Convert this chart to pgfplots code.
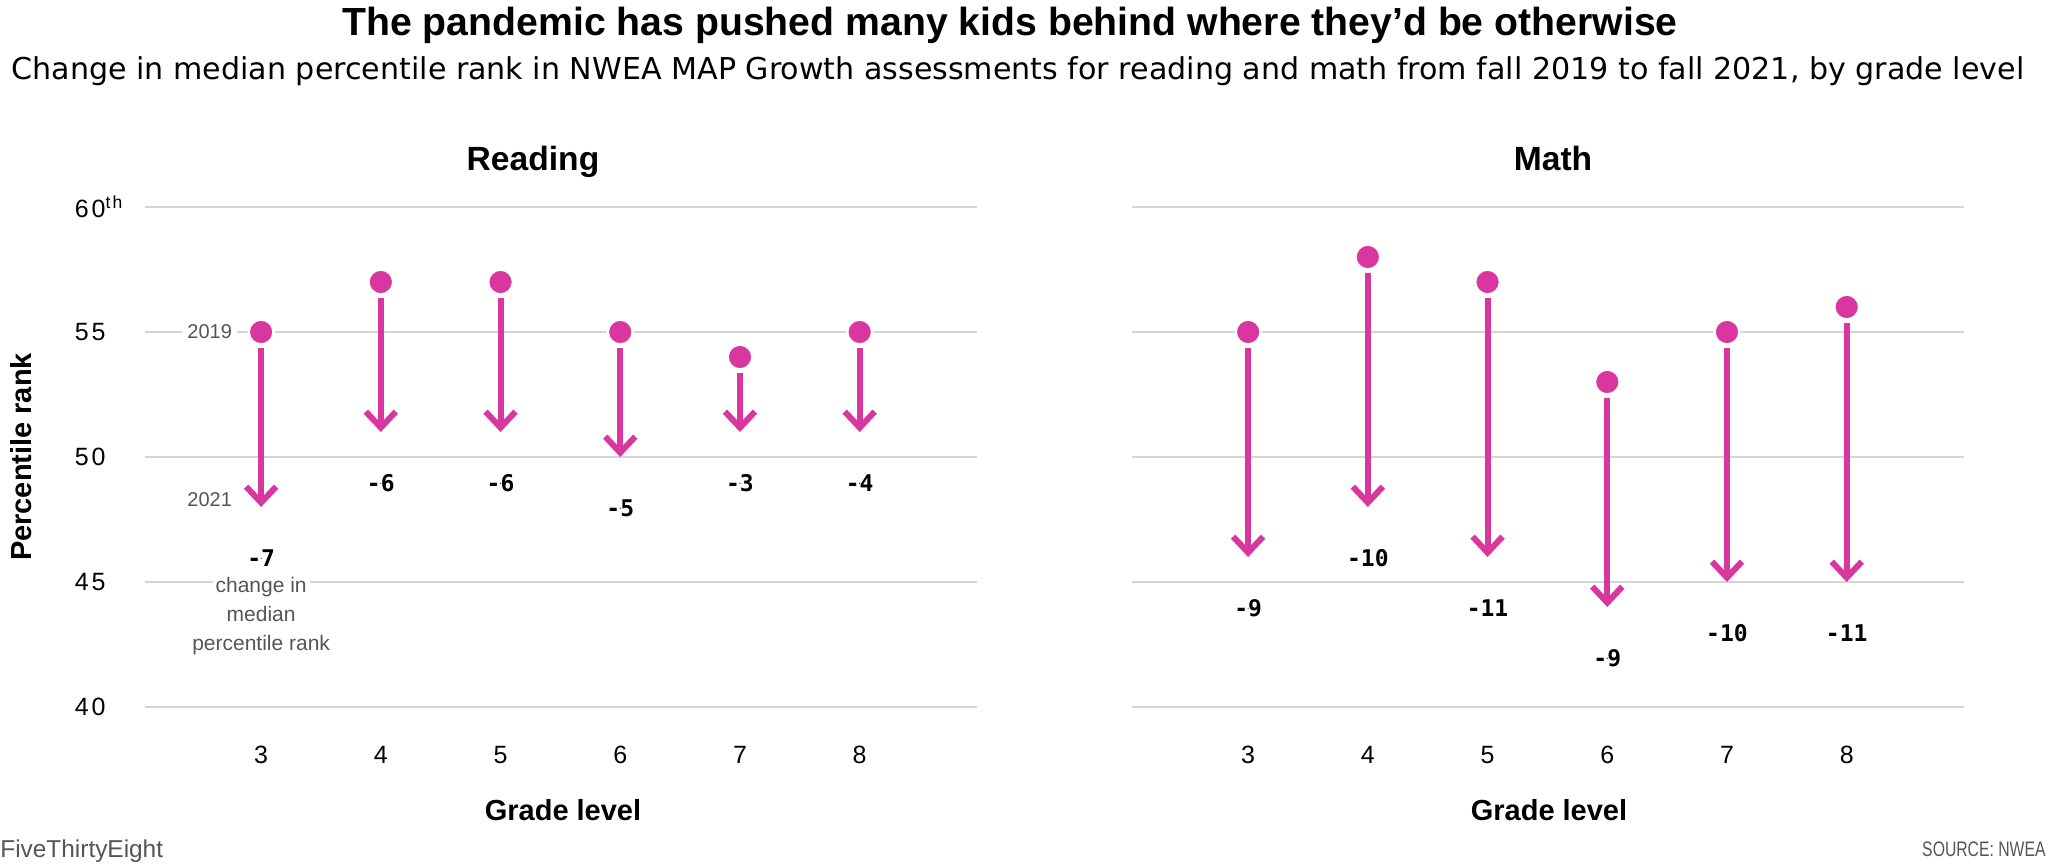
\documentclass[border=0pt]{standalone}
\usepackage{fontspec}
\setmainfont{Liberation Sans}
\newfontfamily\dejavu{DejaVu Sans}
\newfontfamily\dmono{DejaVu Sans Mono}
\newfontfamily\tickfont[LetterSpace=12]{Liberation Sans}
\usepackage{pgfplots}
\pgfplotsset{compat=1.18}
\usepackage{pgfplotstable}
\usetikzlibrary{arrows.meta}
\definecolor{pinkc}{HTML}{D9369F}
\definecolor{gridc}{HTML}{D4D4D4}
\definecolor{graytxt}{HTML}{555555}

\pgfplotstableread{
g y19 y21 lbl
3 55 48 -7
4 57 51 -6
5 57 51 -6
6 55 50 -5
7 54 51 -3
8 55 51 -4
}\reading

\pgfplotstableread{
g y19 y21 lbl
3 55 46 -9
4 58 48 -10
5 57 46 -11
6 53 44 -9
7 55 45 -10
8 56 45 -11
}\math

\pgfplotsset{
  panel/.style={scale only axis, width=416pt, height=250pt,
    xmin=2.03, xmax=8.98, ymin=40, ymax=60,
    axis line style={draw=none}, major tick length=0pt,
    ytick={40,45,50,55,60}, xtick={3,4,5,6,7,8}, xticklabels={3,4,5,6,7,8},
    xticklabel style={font=\tickfont\fontsize{12.5}{14}\selectfont, anchor=north, inner sep=0pt, yshift=-19.5pt},
    ymajorgrids, grid style={gridc, line width=1pt}, clip=false},
  arr/.style={pinkc, line width=3pt, -{Straight Barb[length=8pt, width=15pt]},
    quiver={u=0, v=\thisrow{y21}-\thisrow{y19}+0.64}},
  dots/.style={only marks, mark=*, mark size=6.2pt, mark options={fill=pinkc, draw=white, line width=1.2pt}},
  chg/.style={only marks, mark=*, mark size=0.01pt, mark options={draw=none, fill=none},
    nodes near coords, point meta=explicit symbolic,
    nodes near coords style={font=\dmono\bfseries\fontsize{11.5}{13}\selectfont, anchor=center, text=black, inner sep=0pt}}
}

\begin{document}
\begin{tikzpicture}
\useasboundingbox (0,0) rectangle (1024pt,431.5pt);
\node[font=\bfseries\fontsize{19.6}{23}\selectfont, anchor=base] at (505pt,413.5pt) {The pandemic has pushed many kids behind where they’d be otherwise};
\node[font=\dejavu\fontsize{15.05}{18}\selectfont, anchor=base] at (509pt,391.5pt) {Change in median percentile rank in NWEA MAP Growth assessments for reading and math from fall 2019 to fall 2021, by grade level};
\node[font=\bfseries\fontsize{16.8}{20}\selectfont, anchor=base] at (266.5pt,346.25pt) {Reading};
\node[font=\bfseries\fontsize{16.8}{20}\selectfont, anchor=base] at (776.5pt,346.25pt) {Math};
\node[font=\bfseries\fontsize{14.5}{17}\selectfont, rotate=90] at (10.5pt,203pt) {Percentile rank};

\begin{axis}[panel, at={(72.5pt,78pt)}, anchor=south west,
  yticklabels={40,45,50,55,60\rlap{\textsuperscript{th}}},
  yticklabel style={font=\tickfont\fontsize{12.5}{14}\selectfont, anchor=east, inner sep=0pt, xshift=-19.5pt}]
\addplot[arr] table[x=g, y expr=\thisrow{y19}-0.64] {\reading};
\addplot[dots] table[x=g, y=y19] {\reading};
\addplot[chg] table[x=g, y expr=\thisrow{y21}-2.05, meta=lbl] {\reading};
\node[font=\fontsize{10}{12}\selectfont, text=graytxt, fill=white, inner sep=2.5pt] at (axis cs:2.57,55) {2019};
\node[font=\fontsize{10}{12}\selectfont, text=graytxt, inner sep=0pt] at (axis cs:2.57,48.28) {2021};
\node[font=\fontsize{10.5}{12}\selectfont, text=graytxt, fill=white, inner sep=1.5pt, anchor=base] at (axis cs:3,44.6) {change in};
\node[font=\fontsize{10.5}{12}\selectfont, text=graytxt, inner sep=0pt, anchor=base] at (axis cs:3,43.44) {median};
\node[font=\fontsize{10.5}{12}\selectfont, text=graytxt, inner sep=0pt, anchor=base] at (axis cs:3,42.28) {percentile rank};
\end{axis}

\begin{axis}[panel, at={(566pt,78pt)}, anchor=south west, yticklabels={}]
\addplot[arr] table[x=g, y expr=\thisrow{y19}-0.64] {\math};
\addplot[dots] table[x=g, y=y19] {\math};
\addplot[chg] table[x=g, y expr=\thisrow{y21}-2.05, meta=lbl] {\math};
\end{axis}

\node[font=\bfseries\fontsize{14.5}{17}\selectfont, anchor=base] at (281.5pt,21.25pt) {Grade level};
\node[font=\bfseries\fontsize{14.5}{17}\selectfont, anchor=base] at (774.5pt,21.25pt) {Grade level};
\node[font=\fontsize{12.2}{14}\selectfont, text=graytxt, anchor=base west, inner sep=0pt] at (0pt,3pt) {FiveThirtyEight};
\node[font=\fontsize{10.5}{12}\selectfont, text=graytxt, anchor=base east, inner sep=0pt] at (1023pt,3.2pt) {\scalebox{0.75}[1]{SOURCE: NWEA}};
\end{tikzpicture}
\end{document}
